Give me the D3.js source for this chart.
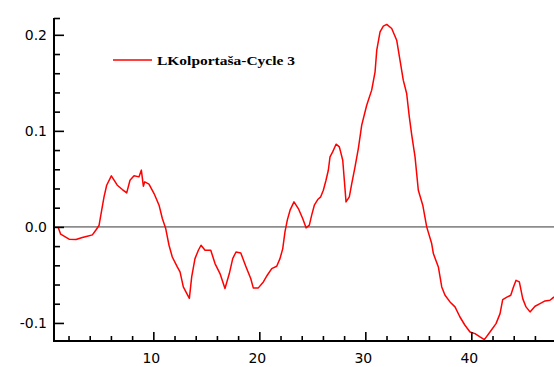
<!DOCTYPE html>
<html>
<head>
<meta charset="utf-8">
<script src="https://cdn.jsdelivr.net/npm/d3@7"></script>
<style>
  html, body { margin: 0; padding: 0; background: #fff; }
  svg { display: block; }
</style>
</head>
<body>
<svg id="chart" width="554" height="367"></svg>
<script>
// ---- data ----
const seriesName = "LKolportaša-Cycle 3";
const xValues = [1.01,1.26,2.05,2.71,3.30,3.77,4.25,4.57,4.88,5.13,5.35,5.60,6.04,6.60,7.08,7.49,7.80,8.18,8.65,8.87,9.06,9.19,9.59,10.07,10.54,10.85,11.17,11.48,11.79,12.26,12.52,12.83,13.15,13.40,13.62,13.93,14.25,14.50,14.88,15.42,15.82,16.29,16.76,17.17,17.49,17.80,18.25,18.75,19.19,19.43,19.91,20.38,20.75,21.17,21.64,21.95,22.21,22.42,22.64,22.90,23.27,23.68,24.09,24.41,24.72,24.94,25.19,25.51,25.79,26.04,26.29,26.51,26.67,26.92,27.24,27.55,27.87,28.02,28.18,28.49,28.72,29.03,29.34,29.66,30.13,30.60,30.92,31.08,31.39,31.70,32.02,32.49,32.96,33.27,33.58,33.90,34.15,34.38,34.69,35.00,35.42,35.79,36.26,36.42,36.89,37.21,37.52,37.99,38.46,38.93,39.40,39.88,40.35,40.82,41.23,41.76,42.33,42.71,42.96,43.40,43.72,43.96,44.22,44.53,44.85,45.16,45.54,46.01,46.48,46.95,47.42,47.80];
const yValues = [0.000,-0.0076,-0.0128,-0.0132,-0.0111,-0.0097,-0.0083,-0.0035,0.0015,0.0174,0.0313,0.0434,0.0532,0.0434,0.0389,0.0354,0.0486,0.0532,0.0521,0.0591,0.0424,0.0469,0.0445,0.0347,0.0226,0.0087,-0.0017,-0.0191,-0.0313,-0.0417,-0.0469,-0.0625,-0.0693,-0.0745,-0.0521,-0.0330,-0.0243,-0.0191,-0.0243,-0.0243,-0.0382,-0.0486,-0.0642,-0.0486,-0.0330,-0.0261,-0.0271,-0.0417,-0.0538,-0.0635,-0.0635,-0.0573,-0.0503,-0.0434,-0.0410,-0.0330,-0.0226,-0.0052,0.0070,0.0174,0.0261,0.0191,0.0087,-0.0010,0.0018,0.0122,0.0226,0.0285,0.0313,0.0382,0.0486,0.0590,0.0729,0.0781,0.0861,0.0833,0.0694,0.0486,0.0260,0.0313,0.0451,0.0625,0.0816,0.1059,0.1267,0.1424,0.1615,0.1840,0.2031,0.2090,0.2108,0.2066,0.1944,0.1736,0.1528,0.1389,0.1146,0.0955,0.0729,0.0382,0.0226,0.0000,-0.0173,-0.0278,-0.0417,-0.0625,-0.0712,-0.0781,-0.0833,-0.0938,-0.1024,-0.1094,-0.1111,-0.1146,-0.1174,-0.1094,-0.1007,-0.0903,-0.0757,-0.0729,-0.0712,-0.0632,-0.0556,-0.0573,-0.0747,-0.0833,-0.0885,-0.0826,-0.0799,-0.0771,-0.0764,-0.0729];
const xMajorTicks = [10, 20, 30, 40];
const xMinorTicks = [2, 4, 6, 8, 12, 14, 16, 18, 22, 24, 26, 28, 32, 34, 36, 38, 42, 44, 46];
const yMajorTicks = [-0.1, 0.0, 0.1, 0.2];
const yMinorTicks = [-0.08, -0.06, -0.04, -0.02, 0.02, 0.04, 0.06, 0.08, 0.12, 0.14, 0.16, 0.18];
const yTickLabels = ["-0.1", "0.0", "0.1", "0.2"];

(function () {
// ---- layout ----
const svg = d3.select("#chart");
const mLeft = 54, mRight = 554, mTop = 18, mBottom = 341;

const x = d3.scaleLinear().domain([0.63, 47.8]).range([mLeft, mRight]);
const y = d3.scaleLinear().domain([-0.1188, 0.2175]).range([mBottom, mTop]);

const font = "'DejaVu Sans', sans-serif";

// zero line
svg.append("line")
  .attr("x1", mLeft).attr("x2", mRight)
  .attr("y1", y(0)).attr("y2", y(0))
  .attr("stroke", "#8c8c8c").attr("stroke-width", 1.6);

// series line
const pts = xValues.map((d, i) => [d, yValues[i]]);
svg.append("path")
  .datum(pts)
  .attr("fill", "none")
  .attr("stroke", "#ff0000")
  .attr("stroke-width", 1.5)
  .attr("stroke-linejoin", "round")
  .attr("d", d3.line().x(d => x(d[0])).y(d => y(d[1])));

// X axis (ticks pointing up)
const xAxisMajor = d3.axisBottom(x).tickValues(xMajorTicks).tickSize(-9).tickFormat("");
const xAxisMinor = d3.axisBottom(x).tickValues(xMinorTicks).tickSize(-5).tickFormat("");
const gx = svg.append("g").attr("transform", `translate(0,${mBottom})`);
gx.call(xAxisMinor);
const gx2 = svg.append("g").attr("transform", `translate(0,${mBottom})`);
gx2.call(xAxisMajor);
[gx, gx2].forEach(g => {
  g.select(".domain").remove();
  g.selectAll(".tick line").attr("stroke", "#000").attr("stroke-width", 1.6);
});
svg.append("line")
  .attr("x1", mLeft - 1).attr("x2", mRight)
  .attr("y1", mBottom).attr("y2", mBottom)
  .attr("stroke", "#000").attr("stroke-width", 2);
svg.append("g").selectAll("text").data(xMajorTicks).join("text")
  .attr("x", d => x(d) - 2)
  .attr("y", 358)
  .attr("dy", "0.35em")
  .attr("text-anchor", "middle")
  .attr("font-family", font)
  .attr("font-size", 14)
  .attr("fill", "#000")
  .text(d => d);

// Y axis (ticks pointing right)
const yAxisMajor = d3.axisLeft(y).tickValues(yMajorTicks).tickSize(-10).tickFormat("");
const yAxisMinor = d3.axisLeft(y).tickValues(yMinorTicks).tickSize(-6).tickFormat("");
const gy = svg.append("g").attr("transform", `translate(${mLeft},0)`);
gy.call(yAxisMinor);
const gy2 = svg.append("g").attr("transform", `translate(${mLeft},0)`);
gy2.call(yAxisMajor);
[gy, gy2].forEach(g => {
  g.select(".domain").remove();
  g.selectAll(".tick line").attr("stroke", "#000").attr("stroke-width", 1.6);
});
svg.append("line")
  .attr("x1", mLeft).attr("x2", mLeft)
  .attr("y1", mTop).attr("y2", mBottom + 1)
  .attr("stroke", "#000").attr("stroke-width", 2);
// top cap
svg.append("line")
  .attr("x1", mLeft).attr("x2", mLeft + 6)
  .attr("y1", mTop + 0.5).attr("y2", mTop + 0.5)
  .attr("stroke", "#000").attr("stroke-width", 1.6);
svg.append("g").selectAll("text").data(yMajorTicks).join("text")
  .attr("x", 47)
  .attr("y", d => y(d))
  .attr("dy", "0.35em")
  .attr("text-anchor", "end")
  .attr("font-family", font)
  .attr("font-size", 14)
  .attr("fill", "#000")
  .text((d, i) => yTickLabels[i]);

// legend
svg.append("line")
  .attr("x1", 113).attr("x2", 152)
  .attr("y1", 60).attr("y2", 60)
  .attr("stroke", "#ff0000").attr("stroke-width", 1.5);
svg.append("text")
  .attr("x", 157).attr("y", 60)
  .attr("dy", "0.35em")
  .attr("font-family", "'Liberation Serif', serif")
  .attr("font-weight", "bold")
  .attr("font-size", 13)
  .attr("textLength", 138)
  .attr("lengthAdjust", "spacingAndGlyphs")
  .attr("fill", "#000")
  .text(seriesName);
})();
</script>
</body>
</html>
